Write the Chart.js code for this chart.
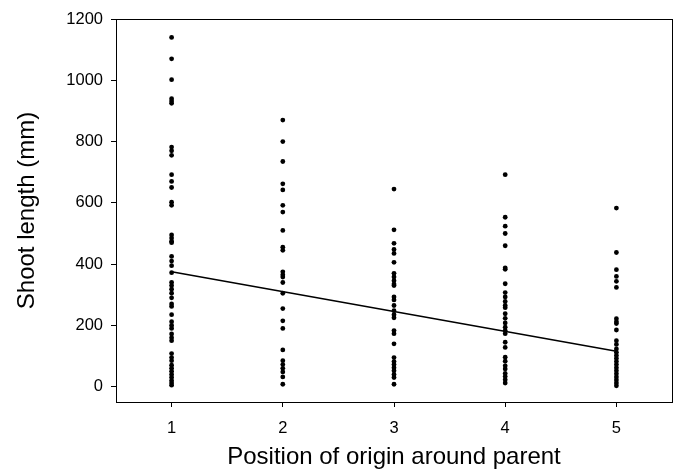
<!DOCTYPE html>
<html>
<head>
<meta charset="utf-8">
<script src="https://cdn.jsdelivr.net/npm/chart.js@4.4.1/dist/chart.umd.min.js"></script>
<style>
  html, body { margin: 0; padding: 0; background: #fff; }
  canvas { display: block; }
</style>
</head>
<body>
<canvas id="shootChart" width="678" height="469"></canvas>
<script>
// positions on the x axis (one column of dots each)
const positions = [1, 2, 3, 4, 5];
// shoot lengths (mm) read per position
const pos1 = [1140, 1070, 1002, 940, 932, 925, 782, 770, 755, 692, 670, 650, 602, 592, 495, 485, 475, 470, 425, 410, 395, 372, 340, 330, 318, 305, 290, 270, 262, 235, 212, 200, 190, 172, 160, 150, 108, 95, 85, 70, 60, 50, 40, 30, 20, 12, 5];
const pos2 = [870, 800, 735, 662, 642, 592, 570, 510, 455, 445, 375, 365, 358, 340, 305, 255, 215, 190, 120, 85, 72, 60, 48, 32, 8];
const pos3 = [645, 512, 468, 448, 435, 406, 370, 358, 346, 335, 330, 293, 283, 265, 248, 235, 225, 183, 173, 140, 95, 82, 72, 62, 52, 40, 30, 8];
const pos4 = [692, 553, 524, 500, 460, 388, 383, 336, 307, 293, 278, 265, 258, 238, 223, 208, 194, 183, 173, 145, 128, 96, 83, 68, 58, 43, 33, 23, 12];
const pos5 = [583, 438, 382, 360, 344, 324, 222, 212, 206, 185, 150, 138, 123, 112, 102, 92, 82, 72, 62, 52, 42, 32, 22, 12, 3];
// fitted line end points
const fitX = [1, 5];
const fitY = [375, 116];
const yTicks = [0, 200, 400, 600, 800, 1000, 1200];

const columns = [pos1, pos2, pos3, pos4, pos5];
const points = [];
columns.forEach((vals, i) => {
  vals.forEach(v => points.push({ x: positions[i], y: v }));
});

// box around the plot area
const frame = {
  id: 'frame',
  afterDraw(chart) {
    const a = chart.chartArea;
    const ctx = chart.ctx;
    ctx.save();
    ctx.strokeStyle = '#000';
    ctx.lineWidth = 1;
    ctx.strokeRect(Math.round(a.left) + 0.5, Math.round(a.top) + 0.5,
      Math.round(a.right - a.left), Math.round(a.bottom - a.top));
    ctx.restore();
  }
};

const font = 'Arial, "Liberation Sans", sans-serif';

new Chart(document.getElementById('shootChart').getContext('2d'), {
  type: 'scatter',
  data: {
    datasets: [
      {
        data: points,
        backgroundColor: '#000',
        borderColor: '#000',
        pointRadius: 2.4,
        pointBorderWidth: 0
      },
      {
        type: 'line',
        data: fitX.map((x, i) => ({ x: x, y: fitY[i] })),
        borderColor: '#000',
        borderWidth: 1.5,
        pointRadius: 0,
        fill: false
      }
    ]
  },
  plugins: [frame],
  options: {
    responsive: false,
    animation: false,
    devicePixelRatio: 1,
    layout: { padding: { left: 0, right: 6, top: 19, bottom: 0 } },
    plugins: { legend: { display: false }, tooltip: { enabled: false } },
    scales: {
      x: {
        type: 'linear',
        min: 0.5,
        max: 5.5,
        afterBuildTicks: s => { s.ticks = positions.map(v => ({ value: v })); },
        grid: { display: true, drawOnChartArea: false, drawTicks: true, tickLength: 5, color: '#000' },
        border: { display: true, color: '#000', width: 1 },
        ticks: { color: '#000', font: { family: font, size: 16.5 }, padding: 12, maxRotation: 0,
                 autoSkip: false, callback: v => String(v) },
        title: { display: true, text: 'Position of origin around parent', color: '#000',
                 font: { family: font, size: 24, lineHeight: 1 }, padding: { top: 4, bottom: 0 } },
        afterFit: s => { s.height = 67; }
      },
      y: {
        min: -50,
        max: 1200,
        afterBuildTicks: s => { s.ticks = yTicks.map(v => ({ value: v })); },
        grid: { display: true, drawOnChartArea: false, drawTicks: true, tickLength: 5, color: '#000' },
        border: { display: true, color: '#000', width: 1 },
        ticks: { color: '#000', font: { family: font, size: 16.5 }, padding: 8,
                 autoSkip: false, callback: v => String(v) },
        title: { display: true, text: 'Shoot length (mm)', color: '#000',
                 font: { family: font, size: 24 }, padding: { top: 13, bottom: 10 } },
        afterFit: s => { s.width = 116; }
      }
    }
  }
});
</script>
</body>
</html>
